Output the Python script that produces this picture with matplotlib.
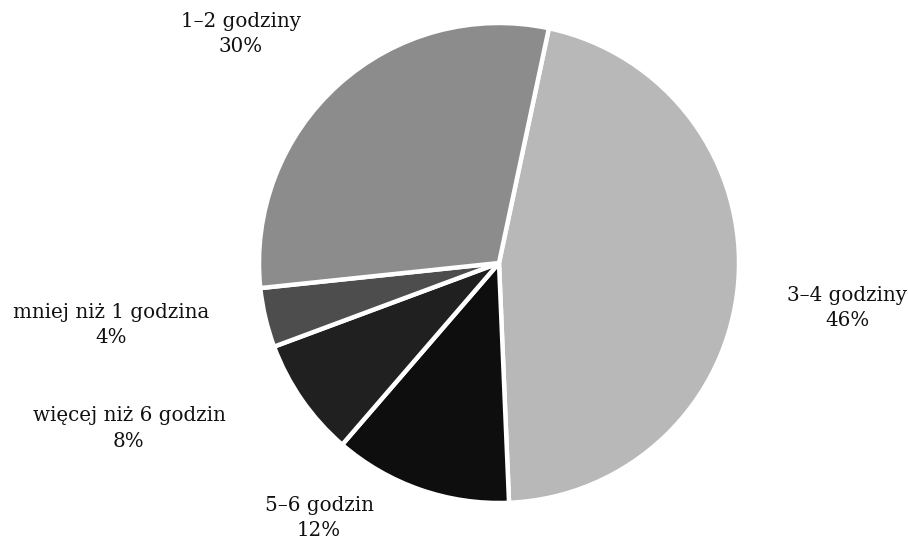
import matplotlib
matplotlib.use('Agg')
import matplotlib.pyplot as plt
import numpy as np

# data
labels = ['3–4 godziny', '5–6 godzin', 'więcej niż 6 godzin', 'mniej niż 1 godzina', '1–2 godziny']
values = [46, 12, 8, 4, 30]
colors = ['#b8b8b8', '#0e0e0e', '#202020', '#4d4d4d', '#8c8c8c']

# label positions (data units, pie radius = 1)
label_pos = [(1.45, -0.188), (-0.75, -1.063), (-1.542, -0.69), (-1.617, -0.258), (-1.075, 0.954)]

plt.rcParams['font.family'] = ['DejaVu Serif']

fig = plt.figure(figsize=(9.08, 5.45), dpi=100)
ax = fig.add_axes([0, 0, 1, 1])

cx, cy, r = 499, 263, 240
ax.pie(values, colors=colors, startangle=78, counterclock=False,
       radius=1, center=(0, 0),
       wedgeprops=dict(edgecolor='white', linewidth=3.2, joinstyle='bevel'))

for lab, v, (x, y) in zip(labels, values, label_pos):
    ax.text(x, y, f'{lab}\n{v}%', ha='center', va='center', fontsize=14.3,
            linespacing=1.45, color='#111111')

ax.set_xlim(-cx / r, (908 - cx) / r)
ax.set_ylim((cy - 545) / r, cy / r)
ax.set_aspect('auto')
ax.axis('off')

plt.savefig('out.png', dpi=100)
